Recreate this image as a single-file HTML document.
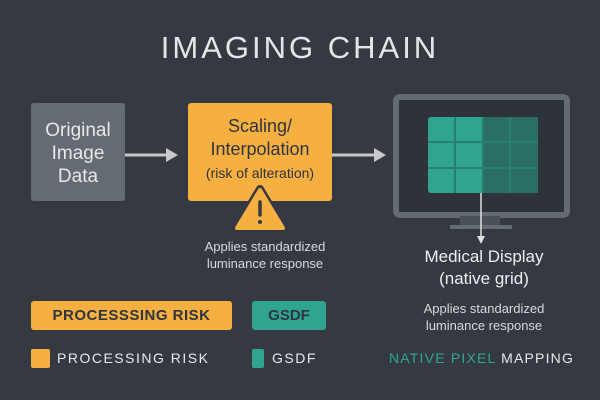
<!DOCTYPE html>
<html><head><style>
body{margin:0;width:600px;height:400px;background:#353a42;font-family:"Liberation Sans",sans-serif;position:relative;overflow:hidden}
.a{position:absolute}
.c{text-align:center}
</style></head><body>
<div class="a c" style="left:0;top:30px;width:600px;font-size:31px;color:#e6e6e6;letter-spacing:3px">IMAGING CHAIN</div>
<div class="a c" style="left:31px;top:103px;width:94px;height:98px;background:#646b73;border-radius:3px;color:#e8e8e8;font-size:19px;line-height:23px;padding-top:16px;box-sizing:border-box">Original<br>Image<br>Data</div>
<div class="a c" style="left:188px;top:103px;width:144px;height:98px;background:#f5b041;border-radius:3px;color:#2e3440;font-size:18px;line-height:23px;padding-top:12px;box-sizing:border-box">Scaling/<br>Interpolation<br><span style="font-size:14px">(risk of alteration)</span></div>
<svg class="a" style="left:0;top:0" width="600" height="400">
<line x1="125" y1="155" x2="168" y2="155" stroke="#c8c8c8" stroke-width="3"/><polygon points="166,148 178,155 166,162" fill="#c8c8c8"/>
<line x1="332" y1="155" x2="376" y2="155" stroke="#c8c8c8" stroke-width="3"/><polygon points="374,148 386,155 374,162" fill="#c8c8c8"/>
<path d="M260,189 L284,229 L236,229 Z" fill="#f5b041" stroke="#353a42" stroke-width="8" stroke-linejoin="round"/>
<path d="M260,190 L283,228 L237,228 Z" fill="#f5b041" stroke="#f5b041" stroke-width="4" stroke-linejoin="round"/>
<line x1="260" y1="202" x2="260" y2="215" stroke="#353a42" stroke-width="3.5" stroke-linecap="round"/><circle cx="260" cy="222" r="2" fill="#353a42"/>
<rect x="396" y="97" width="171" height="118" rx="4" fill="#2e333a" stroke="#646b73" stroke-width="6"/>
<rect x="460" y="216" width="40" height="10" fill="#4a5058"/><rect x="450" y="225" width="62" height="4" fill="#646b73"/>
<rect x="428" y="117" width="110" height="76" rx="3" fill="#2fa58f"/>
<rect x="483" y="117" width="55" height="76" fill="#2a6e64"/>
<g stroke="#2a7e70" stroke-width="2"><line x1="455" y1="117" x2="455" y2="193"/><line x1="483" y1="117" x2="483" y2="193"/><line x1="510" y1="117" x2="510" y2="193"/><line x1="428" y1="142" x2="538" y2="142"/><line x1="428" y1="168" x2="538" y2="168"/></g>
<line x1="481" y1="193" x2="481" y2="238" stroke="#e0e0e0" stroke-width="1.5"/><polygon points="477,236 485,236 481,244" fill="#e0e0e0"/>
</svg>
<div class="a c" style="left:165px;top:238px;width:200px;font-size:13px;line-height:17px;color:#d8d8d8">Applies standardized<br>luminance response</div>
<div class="a c" style="left:384px;top:246px;width:200px;font-size:17px;line-height:22px;color:#eeeeee">Medical Display<br>(native grid)</div>
<div class="a c" style="left:384px;top:300px;width:200px;font-size:13px;line-height:17px;color:#d8d8d8">Applies standardized<br>luminance response</div>
<div class="a c" style="left:31px;top:301px;width:201px;height:29px;background:#f5b041;border-radius:3px;color:#2e3440;font-size:15px;line-height:29px;letter-spacing:0.5px;font-weight:bold">PROCESSSING RISK</div>
<div class="a c" style="left:252px;top:301px;width:74px;height:29px;background:#2fa58f;border-radius:3px;color:#2e3440;font-size:15px;line-height:29px;font-weight:bold">GSDF</div>
<div class="a" style="left:31px;top:349px;width:19px;height:19px;background:#f5b041;border-radius:2px"></div>
<div class="a" style="left:57px;top:350px;font-size:14px;color:#e8e8e8;letter-spacing:1.5px">PROCESSING RISK</div>
<div class="a" style="left:252px;top:349px;width:12px;height:19px;background:#2fa58f;border-radius:2px"></div>
<div class="a" style="left:272px;top:350px;font-size:14px;color:#e8e8e8;letter-spacing:1.5px">GSDF</div>
<div class="a" style="left:389px;top:350px;font-size:14px;color:#e8e8e8;letter-spacing:1.2px"><span style="color:#2fa58f">NATIVE PIXEL</span> MAPPING</div>
</body></html>
